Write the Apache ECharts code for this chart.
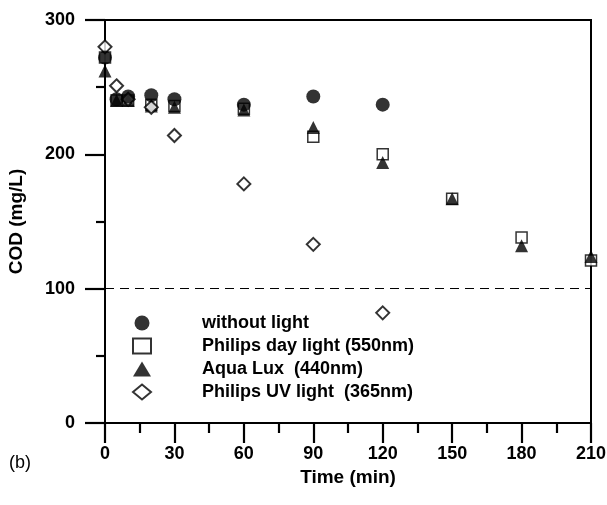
<!DOCTYPE html>
<html><head><meta charset="utf-8">
<script src="https://cdn.jsdelivr.net/npm/echarts@6/dist/echarts.min.js"></script>
<style>html,body{margin:0;padding:0;background:#fff}#c{width:607px;height:505px}</style>
</head><body><div id="c"></div>
<script>
var times = [0, 5, 10, 20, 30, 60, 90, 120, 150, 180, 210];
var withoutLight = [272, 241, 243, 244, 241, 237, 243, 237];
var dayLight = [272, 240, 240, 237, 236, 234, 213, 200, 167, 138, 121];
var aquaLux = [262, 240, 240, 236, 235, 233, 220, 194, 167, 132, 124];
var uvLight = [280, 251, 241, 235, 214, 178, 133, 82];
var seriesNames = ['without light', 'Philips day light (550nm)', 'Aqua Lux  (440nm)', 'Philips UV light  (365nm)'];
var xTicks = [0, 30, 60, 90, 120, 150, 180, 210];
var yTicks = [0, 100, 200, 300];
var refLine = 100;

function pts(vals){ return vals.map(function(v,i){ return [times[i], v]; }); }
var font = '"Liberation Sans", Arial, sans-serif';
var chart = echarts.init(document.getElementById('c'), null, {renderer:'canvas'});
chart.setOption({
  animation: false,
  backgroundColor: '#fff',
  grid: {left: 105, right: 16, top: 20, bottom: 82, show: true, borderColor: '#000', borderWidth: 2,
         containLabel: false, outerBoundsMode: 'none'},
  xAxis: {
    type: 'value', min: xTicks[0], max: xTicks[xTicks.length-1], interval: 30,
    axisLine: {lineStyle: {color: '#000', width: 2}},
    axisTick: {show: true, length: 20, lineStyle: {color: '#000', width: 2.2}},
    minorTick: {show: true, splitNumber: 2, length: 10, lineStyle: {color: '#000', width: 2.2}},
    splitLine: {show: false},
    axisLabel: {color: '#000', fontFamily: font, fontWeight: 'bold', fontSize: 18, margin: 22},
    name: 'Time (min)', nameLocation: 'middle', nameGap: 41,
    nameTextStyle: {color: '#000', fontFamily: font, fontWeight: 'bold', fontSize: 19}
  },
  yAxis: {
    type: 'value', min: yTicks[0], max: yTicks[yTicks.length-1], interval: 100,
    axisLine: {show: true, lineStyle: {color: '#000', width: 2}},
    axisTick: {show: true, length: 20, lineStyle: {color: '#000', width: 2.2}},
    minorTick: {show: true, splitNumber: 2, length: 9, lineStyle: {color: '#000', width: 2.2}},
    splitLine: {show: false},
    axisLabel: {color: '#000', fontFamily: font, fontWeight: 'bold', fontSize: 18, margin: 30},
    name: 'COD (mg/L)', nameLocation: 'middle', nameGap: 79,
    nameTextStyle: {color: '#000', fontFamily: font, fontWeight: 'bold', fontSize: 19}
  },
  legend: {
    orient: 'vertical', left: 127, top: 309, itemGap: 5, itemWidth: 18, itemHeight: 15,
    data: seriesNames,
    textStyle: {color: '#000', fontFamily: font, fontWeight: 'bold', fontSize: 18, padding: [0,0,0,46]}
  },
  graphic: [{type: 'text', left: 9, top: 454, style: {text: '(b)', fill: '#000', font: '18px ' + font}}],
  series: [
    {name: seriesNames[1], type: 'scatter', symbol: 'rect', symbolSize: 11, z: 2,
     itemStyle: {color: '#fff', borderColor: '#000', borderWidth: 1.5}, data: pts(dayLight),
     markLine: {silent: true, symbol: 'none', label: {show: false},
       lineStyle: {color: '#000', type: [9, 6], width: 1.2}, data: [{yAxis: refLine}]}},
    {name: seriesNames[2], type: 'scatter', symbol: 'triangle', symbolSize: 13, z: 3,
     itemStyle: {color: '#000'}, data: pts(aquaLux)},
    {name: seriesNames[3], type: 'scatter', symbol: 'diamond', symbolSize: 13, z: 4,
     itemStyle: {color: '#fff', borderColor: '#000', borderWidth: 2}, data: pts(uvLight)},
    {name: seriesNames[0], type: 'scatter', symbol: 'circle', symbolSize: 14, z: 5,
     itemStyle: {color: '#000'}, data: pts(withoutLight)}
  ]
});
</script></body></html>
